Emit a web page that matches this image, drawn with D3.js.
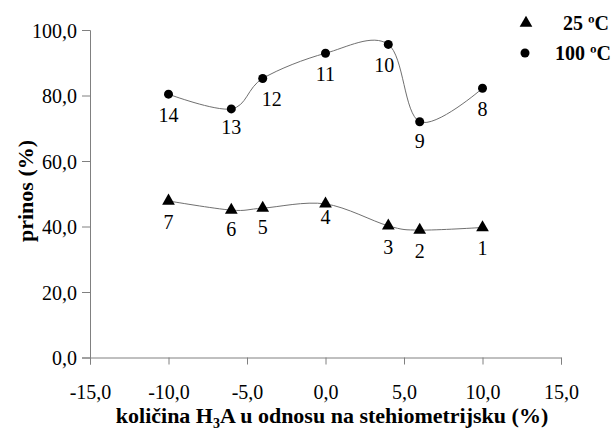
<!DOCTYPE html>
<html><head><meta charset="utf-8">
<script src="https://cdn.jsdelivr.net/npm/d3@7"></script>
<style>body{margin:0;background:#fff}svg{display:block}svg text{font-family:"Liberation Serif","Times New Roman",Times,"DejaVu Serif",serif}</style>
</head><body>
<script>
// Data
const xValues = [10, 6, 4, 0, -4, -6, -10];
const series25 = [39.7, 38.9, 40.2, 46.9, 45.6, 45.0, 47.8];
const labels25 = ["1", "2", "3", "4", "5", "6", "7"];
const series100 = [82.2, 72.0, 95.6, 92.9, 85.2, 75.9, 80.4];
const labels100 = ["8", "9", "10", "11", "12", "13", "14"];
const xTicks = [-15, -10, -5, 0, 5, 10, 15];
const yTicks = [0, 20, 40, 60, 80, 100];
const legendNames = ["25 ºC", "100 ºC"];

const W = 614, H = 432;
const svg = d3.select("body").append("svg").attr("width", W).attr("height", H);
const x = d3.scaleLinear().domain([-15, 15]).range([90, 561]);
const y = d3.scaleLinear().domain([0, 100]).range([357.5, 30]);
const fmt = d => d3.format(".1f")(d).replace(".", ",").replace("\u2212", "-");

// axes
const gx = svg.append("g").attr("transform", `translate(0,${y(0)})`)
  .call(d3.axisBottom(x).tickValues(xTicks).tickFormat(fmt).tickSizeOuter(0).tickSize(7).tickPadding(20));
const gy = svg.append("g").attr("transform", `translate(${x(-15)},0)`)
  .call(d3.axisLeft(y).tickValues(yTicks).tickFormat(fmt).tickSizeOuter(0).tickSize(8).tickPadding(5));
[gx, gy].forEach(g => {
  g.attr("font-family", null);
  g.select(".domain").attr("stroke", "#808080");
  g.selectAll(".tick line").attr("stroke", "#808080");
  g.selectAll(".tick text").attr("font-size", 20).attr("fill", "#000");
});
gy.selectAll(".tick text").attr("dy", "0.35em");

// titles
svg.append("text").attr("x", 332).attr("y", 423).attr("text-anchor", "middle")
  .attr("font-size", 22).attr("font-weight", "bold")
  .html('količina H<tspan font-size="14" dy="5">3</tspan><tspan dy="-5">A u odnosu na stehiometrijsku (%)</tspan>');
svg.append("text").attr("transform", "translate(33,191) rotate(-90)").attr("text-anchor", "middle")
  .attr("font-size", 22).attr("font-weight", "bold").text("prinos (%)");

const line = d3.line().x(d => x(d[0])).y(d => y(d[1])).curve(d3.curveCardinal.tension(0));
function sorted(vals) {
  return xValues.map((xv, i) => [xv, vals[i]]).sort((a, b) => a[0] - b[0]);
}
[series25, series100].forEach(s => {
  svg.append("path").attr("d", line(sorted(s))).attr("fill", "none")
    .attr("stroke", "#707070").attr("stroke-width", 1);
});

const tri = d3.symbol().type(d3.symbolTriangle).size(70);
svg.selectAll(".t").data(series25).enter().append("path")
  .attr("d", tri).attr("transform", (d, i) => `translate(${x(xValues[i])},${y(d)})`).attr("fill", "#000");
svg.selectAll(".c").data(series100).enter().append("circle")
  .attr("cx", (d, i) => x(xValues[i])).attr("cy", d => y(d)).attr("r", 4.5).attr("fill", "#000");

// point labels
const nudge = {"12": [9, 0], "10": [-4, 0], "4": [0, -8], "13": [0, -3], "9": [0, -2], "6": [0, -2], "5": [0, -2]};
function addLabels(vals, labs) {
  svg.selectAll(null).data(vals).enter().append("text")
    .attr("x", (d, i) => x(xValues[i]) + (nudge[labs[i]] ? nudge[labs[i]][0] : 0))
    .attr("y", (d, i) => y(d) + 28 + (nudge[labs[i]] ? nudge[labs[i]][1] : 0))
    .attr("text-anchor", "middle").attr("font-size", 20).text((d, i) => labs[i]);
}
addLabels(series25, labels25);
addLabels(series100, labels100);

// legend
const leg = svg.append("g");
leg.append("path").attr("d", tri).attr("transform", "translate(526,23)").attr("fill", "#000");
leg.append("circle").attr("cx", 525).attr("cy", 53).attr("r", 4.5).attr("fill", "#000");
leg.append("text").attr("x", 609).attr("y", 30).attr("text-anchor", "end").attr("font-size", 20)
  .attr("font-weight", "bold").text(legendNames[0]);
leg.append("text").attr("x", 611).attr("y", 60).attr("text-anchor", "end").attr("font-size", 20)
  .attr("font-weight", "bold").text(legendNames[1]);
</script>
</body></html>
